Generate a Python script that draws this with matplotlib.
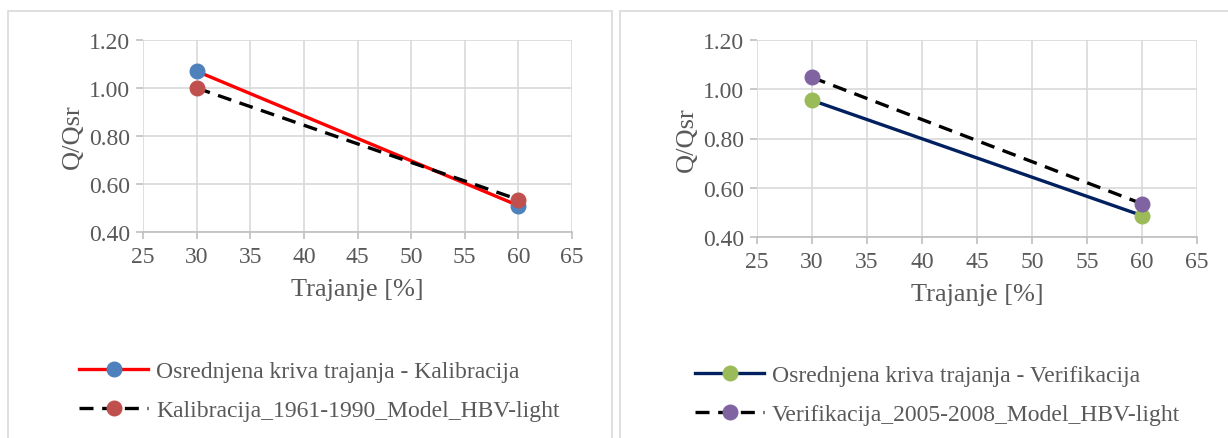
import matplotlib
matplotlib.use("Agg")
import matplotlib.pyplot as plt
from matplotlib.patches import Rectangle

plt.rcParams['font.family'] = ['Liberation Serif', 'DejaVu Serif']

trajanje = [30, 60]

# left panel - kalibracija
kal_osr = [1.07, 0.51]
kal_hbv = [1.00, 0.535]
# right panel - verifikacija
ver_osr = [0.955, 0.487]
ver_hbv = [1.048, 0.535]

xticks = [25, 30, 35, 40, 45, 50, 55, 60, 65]
yticks = [0.40, 0.60, 0.80, 1.00, 1.20]

txt = '#595959'
grid = '#d9d9d9'

fig = plt.figure(figsize=(12.28, 4.39), dpi=100)
W, H = 1228, 439

# panel frames
for x0, x1 in [(8, 612), (620, 1232)]:
    fig.patches.append(Rectangle((x0 / W, -0.05), (x1 - x0) / W, 1 - 12 / H + 0.05,
                                 transform=fig.transFigure, fill=False,
                                 edgecolor=grid, linewidth=1.2))


def panel(rect, osr, hbv, line_col, m1, m2, lab1, lab2, leg_xy):
    ax = fig.add_axes(rect)
    ax.plot(trajanje, osr, color=line_col, lw=2.4, marker='o', ms=10.5,
            mfc=m1, mec=m1, label=lab1, zorder=3)
    ax.plot(trajanje, hbv, color='black', lw=2.4, ls=(0, (4.2, 2.6)), marker='o', ms=10.5,
            mfc=m2, mec=m2, label=lab2, zorder=4)
    ax.set_xlim(25, 65)
    ax.set_ylim(0.40, 1.20)
    ax.set_xticks(xticks)
    ax.set_yticks(yticks)
    ax.set_yticklabels(['%.2f' % v for v in yticks])
    ax.grid(True, color=grid, lw=1.2)
    ax.set_axisbelow(True)
    for s in ['top', 'right', 'left']:
        ax.spines[s].set_visible(False)
    ax.spines['bottom'].set_color('#bfbfbf')
    ax.spines['bottom'].set_linewidth(1.2)
    ax.tick_params(axis='both', colors='#bfbfbf', labelcolor=txt, labelsize=17,
                   length=5, width=1.2)
    ax.tick_params(axis='x', pad=5)
    ax.tick_params(axis='y', pad=4)
    ax.set_xlabel('Trajanje [%]', color=txt, fontsize=19, labelpad=8)
    ax.set_ylabel('Q/Qsr', color=txt, fontsize=19, labelpad=4)
    ax.legend(loc='upper left', bbox_to_anchor=leg_xy, bbox_transform=fig.transFigure,
              frameon=False, fontsize=17, labelcolor=txt, handlelength=2.9,
              handletextpad=0.35, labelspacing=0.75, borderaxespad=0)
    return ax


panel([143 / W, 1 - 233 / H, 429 / W, 192 / H], kal_osr, kal_hbv,
      '#ff0000', '#4f81bd', '#c0504d',
      'Osrednjena kriva trajanja - Kalibracija',
      'Kalibracija_1961-1990_Model_HBV-light', (70 / W, 1 - 352 / H))

panel([757 / W, 1 - 238 / H, 440 / W, 197 / H], ver_osr, ver_hbv,
      '#002060', '#9bbb59', '#8064a2',
      'Osrednjena kriva trajanja - Verifikacija',
      'Verifikacija_2005-2008_Model_HBV-light', (686 / W, 1 - 356 / H))

fig.savefig('out.png', dpi=100)
